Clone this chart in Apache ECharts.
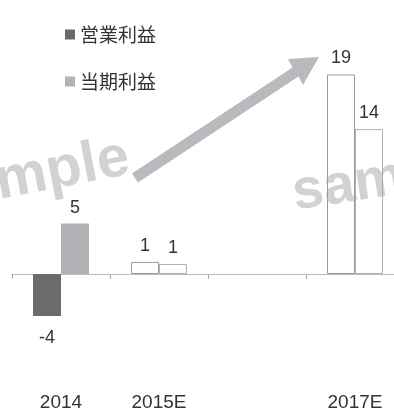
<!DOCTYPE html>
<html><head><meta charset="utf-8">
<script src="https://cdn.jsdelivr.net/npm/echarts@6/dist/echarts.min.js"></script>
<style>html,body{margin:0;padding:0;background:#fff}#c{width:394px;height:408px}</style>
</head><body><div id="c"></div>
<script>
const categories = ['2014', '2015E', '2016E', '2017E'];
const tickLabels = ['2014', '2015E', '', '2017E'];
const seriesNames = ['営業利益', '当期利益'];
const operatingProfit = [-4, 1.15, null, 19];
const netProfit = [4.8, 0.95, null, 13.8];
const estimated = [false, true, false, true];

const colors = ['#6b6b6d', '#b1b3b6'];
const outlineColors = ['#999999', '#b0b0b0'];
const numFont = 'Liberation Sans, Arial, sans-serif';

function buildData(vals, si) {
  return vals.map((v, i) => {
    if (v === null) return null;
    const d = { value: v };
    if (estimated[i]) d.itemStyle = { color: '#ffffff', borderColor: outlineColors[si], borderWidth: 1 };
    if (v < 0) d.label = { position: 'bottom', distance: 13 };
    return d;
  });
}

const chart = echarts.init(document.getElementById('c'), null, { renderer: 'canvas' });
chart.setOption({
  animation: false,
  backgroundColor: '#fff',
  legend: {
    orient: 'vertical', left: 60, top: 20, itemGap: 28,
    itemWidth: 10, itemHeight: 10, icon: 'rect',
    textStyle: { fontSize: 19, color: '#333', fontFamily: 'Noto Sans CJK JP' },
    data: seriesNames
  },
  grid: { left: 12, width: 392, top: 64, bottom: 29, containLabel: false, outerBoundsMode: 'none' },
  xAxis: [
    { type: 'category', data: categories, position: 'bottom',
      axisLine: { onZero: true, lineStyle: { color: '#bbbbbb', width: 1 } },
      axisTick: { show: true, length: 5, lineStyle: { color: '#aaaaaa' } },
      axisLabel: { show: false } },
    { type: 'category', data: tickLabels, position: 'bottom',
      axisLine: { show: false }, axisTick: { show: false },
      axisLabel: { show: true, margin: 14, fontSize: 19, color: '#333', fontFamily: numFont, interval: 0 } }
  ],
  yAxis: { type: 'value', min: -10, max: 20, show: false, splitLine: { show: false } },
  graphic: [
    { type: 'text', x: -62, y: 224, rotation: 0.19, z: 50,
      style: { text: 'sample', font: 'bold 58px Liberation Sans, Arial, sans-serif', fill: 'rgba(165,165,165,0.5)', textVerticalAlign: 'bottom' } },
    { type: 'text', x: 297, y: 222, rotation: 0.15, z: 50,
      style: { text: 'sample', font: 'bold 56px Liberation Sans, Arial, sans-serif', fill: 'rgba(165,165,165,0.5)', textVerticalAlign: 'bottom' } },
    { type: 'polygon', z: 100,
      shape: { points: [[132,173.4],[292.5,67.4],[288,59],[319,57],[303,85],[298.5,76.6],[138,182.6]] },
      style: { fill: '#b8babd' } }
  ],
  series: [
    { name: seriesNames[0], type: 'bar', xAxisIndex: 0, barWidth: 28, barGap: '0%',
      itemStyle: { color: colors[0] },
      label: { show: true, position: 'top', distance: 7, fontSize: 18, color: '#333', fontFamily: numFont,
        formatter: p => Math.round(p.value) },
      data: buildData(operatingProfit, 0) },
    { name: seriesNames[1], type: 'bar', xAxisIndex: 0, barWidth: 28, barGap: '0%',
      itemStyle: { color: colors[1] },
      label: { show: true, position: 'top', distance: 7, fontSize: 18, color: '#333', fontFamily: numFont,
        formatter: p => Math.round(p.value) },
      data: buildData(netProfit, 1) }
  ]
});
</script></body></html>
